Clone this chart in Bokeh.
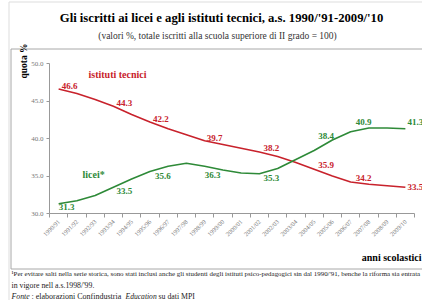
import math
from bokeh.plotting import figure
from bokeh.models import (ColumnDataSource, FixedTicker, Label, LabelSet,
                          BoxAnnotation, PrintfTickFormatter, Range1d)
from bokeh.core.properties import value
from bokeh.embed import file_html
from bokeh.resources import INLINE

# ---------------- data ----------------
years = ["1990/91", "1991/92", "1992/93", "1993/94", "1994/95", "1995/96",
         "1996/97", "1997/98", "1998/99", "1999/00", "2000/01", "2001/02",
         "2002/03", "2003/04", "2004/05", "2005/06", "2006/07", "2007/08",
         "2008/09", "2009/10"]
tecnici = [46.6, 46.0, 45.2, 44.3, 43.2, 42.2, 41.3, 40.5, 39.7, 39.2,
           38.7, 38.2, 37.6, 36.8, 35.9, 35.0, 34.2, 33.9, 33.7, 33.5]
licei = [31.3, 31.7, 32.4, 33.5, 34.6, 35.6, 36.3, 36.7, 36.3, 35.8,
         35.4, 35.3, 36.0, 37.2, 38.4, 39.8, 40.9, 41.4, 41.4, 41.3]
label_idx = [0, 3, 5, 8, 11, 14, 16, 19]
y_ticks = [30, 35, 40, 45, 50]

# ---------------- styles / geometry ----------------
RED = "#c8222c"
GREEN = "#2e8a38"
SERIF = "Liberation Serif"
W, H = 422, 300
# plot area in canvas pixels
FL, FR, FT, FB = 49, 8, 63, 87
X0, X1, Y0, Y1 = -0.5, 19.5, 30.0, 50.0
SX = (W - FL - FR) / (X1 - X0)   # px per x unit
SY = (H - FT - FB) / (Y1 - Y0)   # px per y unit
XS, XE = X0 - FL / SX, X1 + FR / SX
YB, YT = Y0 - FB / SY, Y1 + FT / SY

def px(ix):  # canvas x -> data x
    return XS + ix / SX

def py(iy):  # canvas y -> data y
    return YT - iy / SY

p = figure(width=W, height=H, output_backend="svg", toolbar_location=None,
           title=None, x_range=Range1d(XS, XE), y_range=Range1d(YB, YT),
           min_border=0, min_border_left=0, min_border_right=0,
           min_border_top=0, min_border_bottom=0)
p.outline_line_color = None
p.xgrid.visible = False
p.ygrid.visible = False
p.background_fill_color = "white"
p.border_fill_color = "white"

# boxes
p.add_layout(BoxAnnotation(left=px(8.5), right=px(470), top=py(1.5), bottom=py(330),
                           fill_alpha=0, line_color="#dddddd", line_alpha=1, line_width=1))
p.add_layout(BoxAnnotation(left=px(10.5), right=px(470), top=py(48.5), bottom=py(268.5),
                           fill_alpha=0, line_color="#a8a8a8", line_alpha=1, line_width=1))

xs = list(range(len(years)))
p.line(xs, tecnici, line_color=RED, line_width=1.6)
p.line(xs, licei, line_color=GREEN, line_width=1.6)

# axes
xa = p.xaxis[0]
xa.fixed_location = Y0
xa.bounds = (X0, X1)
xa.ticker = FixedTicker(ticks=xs, minor_ticks=[i - 0.5 for i in range(len(years) + 1)])
xa.major_label_overrides = {i: y for i, y in enumerate(years)}
xa.major_label_orientation = math.pi / 4
xa.major_label_text_font = SERIF
xa.major_label_text_font_size = "6.3px"
xa.major_label_text_color = "#777777"
xa.major_label_standoff = 3
xa.major_tick_out = 0
xa.major_tick_in = 0
xa.minor_tick_out = 4
xa.minor_tick_in = 0
xa.minor_tick_line_color = "#999999"
xa.axis_line_color = "#999999"

ya = p.yaxis[0]
ya.fixed_location = X0
ya.bounds = (Y0, Y1)
ya.ticker = FixedTicker(ticks=y_ticks, minor_ticks=[])
ya.formatter = PrintfTickFormatter(format="%.1f")
ya.major_label_text_font = SERIF
ya.major_label_text_font_size = "7px"
ya.major_label_text_color = "#777777"
ya.major_label_standoff = 3
ya.major_tick_out = 3
ya.major_tick_in = 0
ya.major_tick_line_color = "#999999"
ya.axis_line_color = "#999999"

# data labels
red_dx = [3, 3, 3, 2, 4, 4, 5, 2]
red_dy = [0, 0, 0, 0, 1, 1, 1, 0]
red_base = ["bottom"] * 7 + ["middle"]
grn_dx = [0, 3, 5, 0, 4, 4, 5, 2]
grn_dy = [0, -1, -1, -6, -1, 12, 7, 4]
grn_base = ["top"] * 5 + ["bottom"] * 3
red_src = ColumnDataSource(dict(x=label_idx, y=[tecnici[i] for i in label_idx],
                                t=["%.1f" % tecnici[i] for i in label_idx],
                                dx=red_dx, dy=red_dy, b=red_base))
grn_src = ColumnDataSource(dict(x=label_idx, y=[licei[i] for i in label_idx],
                                t=["%.1f" % licei[i] for i in label_idx],
                                dx=grn_dx, dy=grn_dy, b=grn_base))
for src, col in ((red_src, RED), (grn_src, GREEN)):
    p.add_layout(LabelSet(x="x", y="y", text="t", source=src, x_offset="dx",
                          y_offset="dy", text_baseline="b", text_align="left",
                          text_font=value(SERIF), text_font_size=value("9px"),
                          text_font_style=value("bold"), text_color=value(col)))

def lab(text, ix, iy, size, color="black", style="normal", align="left",
        base="middle", angle=0):
    p.add_layout(Label(x=px(ix), y=py(iy), text=text, text_font=SERIF,
                       text_font_size=size, text_color=color,
                       text_font_style=style, text_align=align,
                       text_baseline=base, angle=angle))

lab("Gli iscritti ai licei e agli istituti tecnici, a.s. 1990/'91-2009/'10",
    221, 17, "12.7px", style="bold", align="center")
lab("(valori %, totale iscritti alla scuola superiore di II grado = 100)",
    217, 35, "9.5px", color="#333333", align="center")
lab("istituti tecnici", 88, 74, "10px", color=RED, style="bold")
lab("licei*", 82, 174, "10px", color=GREEN, style="bold")
lab("anni scolastici", 421, 257, "10px", style="bold", align="right")
lab("quota %", 23, 78, "9.5px", style="bold", angle=math.pi / 2)

lab("\u00b9Per evitare salti nella serie storica, sono stati inclusi anche gli studenti degli "
    "istituti psico-pedagogici sin dal 1990/'91, benche la riforma sia entrata",
    11, 273, "6.95px", color="#222222")
lab("in vigore nell a.s.1998/'99.", 11, 285, "7.8px", color="#222222")
lab("Fonte", 11, 296, "7.8px", color="#222222", style="italic")
lab(": elaborazioni Confindustria", 31, 296, "8px", color="#222222")
lab("Education", 125, 296, "7.6px", color="#222222", style="italic")
lab("su dati MPI", 158, 296, "7.8px", color="#222222")

open("out.html", "w").write(file_html(p, INLINE))
